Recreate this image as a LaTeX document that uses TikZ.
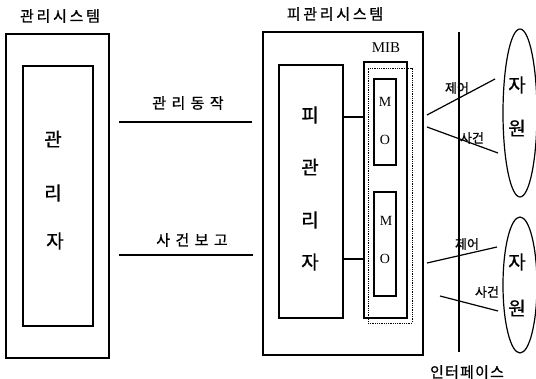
\documentclass[tikz,border=0pt]{standalone}
\usepackage{fontspec}
\newfontfamily\kr[FakeBold=0.8]{Noto Sans CJK KR}
\newfontfamily\krs[LetterSpace=18,FakeBold=0.8]{Noto Sans CJK KR}
\newfontfamily\krw[LetterSpace=36,FakeBold=0.8]{Noto Sans CJK KR}
\newfontfamily\krn[LetterSpace=8,FakeBold=0.8]{Noto Sans CJK KR}
\setmainfont{Liberation Serif}
\usetikzlibrary{shapes.geometric}
\tikzset{
  box/.style={draw, line width=1.2pt, inner sep=0pt},
  lbl/.style={inner sep=0pt, font=\krs\fontsize{15}{15}\selectfont},
  lblw/.style={inner sep=0pt, font=\krw\fontsize{15}{15}\selectfont},
  lbln/.style={inner sep=0pt, font=\krn\fontsize{15}{15}\selectfont},
  big/.style={inner sep=0pt, font=\kr\fontsize{19}{19}\selectfont},
  small/.style={inner sep=0pt, font=\kr\fontsize{13}{13}\selectfont},
  lat/.style={inner sep=0pt, font=\fontsize{14}{14}\selectfont},
  wire/.style={line width=1.2pt},
  res/.style={draw, ellipse, line width=1.2pt, inner sep=0pt},
}
\begin{document}
\begin{tikzpicture}[x=1pt,y=-1pt]
\useasboundingbox (0,0) rectangle (536,379);
% manager system
\node[box, minimum width=103pt, minimum height=324pt] (lo) at (57.5,196) {};
\node[box, minimum width=70pt, minimum height=260pt] (li) at (58,196) {};
\node[lbl] (lot) at (60,16) {관리시스템};
\node[big] (l1) at (53,139) {관};
\node[big] (l2) at (53,193) {리};
\node[big] (l3) at (55,241) {자};
% middle lines
\coordinate (a1) at (119,122); \coordinate (a2) at (252,122);
\coordinate (b1) at (119,255); \coordinate (b2) at (253,255);
\draw[wire] (a1) -- (a2);
\draw[wire] (b1) -- (b2);
\node[lblw] (at) at (188,103) {관리동작};
\node[lblw] (bt) at (192,240) {사건보고};
% managed system
\node[box, minimum width=160pt, minimum height=323pt] (ro) at (343,193.5) {};
\node[lbl] (rot) at (335,14) {피관리시스템};
\node[lat, font=\fontsize{15}{15}\selectfont] (mibt) at (386,48) {MIB};
\node[box, minimum width=64pt, minimum height=253pt] (pm) at (311,191.5) {};
\node[big] (p1) at (310,115) {피};
\node[big] (p2) at (310,167) {관};
\node[big] (p3) at (310,220) {리};
\node[big] (p4) at (310,262) {자};
\node[box, minimum width=43pt, minimum height=256pt] (mib) at (385.5,190) {};
\node[draw, densely dotted, line width=0.8pt, inner sep=0pt, minimum width=44pt, minimum height=255pt] (mibd) at (390,195.5) {};
\node[box, minimum width=22pt, minimum height=86pt] (mo1) at (385,122) {};
\node[lat] at (385,102) {M};
\node[lat] at (385,140) {O};
\node[box, minimum width=22pt, minimum height=104pt] (mo2) at (385,244) {};
\node[lat] at (386,221) {M};
\node[lat] at (385,259) {O};
\draw[wire] (pm.east |- 0,117) -- (mib.west |- 0,117);
\draw[wire] (pm.east |- 0,259) -- (mib.west |- 0,259);
% interface
\coordinate (i1) at (459,32); \coordinate (i2) at (459,352);
\draw[line width=1.4pt] (i1) -- (i2);
\node[lbln] (it) at (467,372) {인터페이스};
% resources
\node[res, minimum width=34pt, minimum height=168pt] (r1) at (520,113) {};
\node[big] at (517,85) {자};
\node[big] at (517,128) {원};
\node[res, minimum width=34pt, minimum height=136pt] (r2) at (520,285) {};
\node[big] at (517,262) {자};
\node[big] at (517,308) {원};
\coordinate (c1) at (427,115); \coordinate (c2) at (495,79);
\coordinate (c3) at (427,127); \coordinate (c4) at (498,153);
\draw[wire] (c1) -- (c2);
\draw[wire] (c3) -- (c4);
\node[small] at (457,88) {제어};
\node[small] at (472,138) {사건};
\coordinate (d1) at (427,263); \coordinate (d2) at (497,247);
\coordinate (d3) at (440,296); \coordinate (d4) at (498,311);
\draw[wire] (d1) -- (d2);
\draw[wire] (d3) -- (d4);
\node[small] at (467,244) {제어};
\node[small] at (487,292) {사건};
\end{tikzpicture}
\end{document}
